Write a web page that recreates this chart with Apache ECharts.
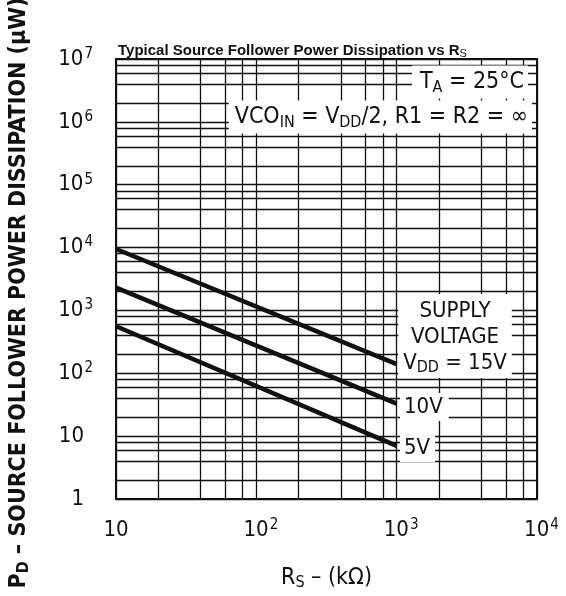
<!DOCTYPE html>
<html>
<head>
<meta charset="utf-8">
<script src="https://cdn.jsdelivr.net/npm/echarts@6/dist/echarts.min.js"></script>
<style>
html,body{margin:0;padding:0;background:#fff;}
#chart{width:566px;height:596px;}
</style>
</head>
<body>
<div id="chart"></div>
<script>
// Data
const seriesNames = ['15V', '10V', '5V'];
const rsValues = [10, 1000];                 // R_S (kΩ)
const pd15V = [9500, 140];                   // P_D (µW) at VDD = 15 V
const pd10V = [2300, 33];                    // P_D (µW) at VDD = 10 V
const pd5V  = [560, 7];                      // P_D (µW) at VDD = 5 V

// Axis ticks and chart-paper grid values
const xTicks = [10, 100, 1000, 10000];
const yTicks = [1, 10, 100, 1000, 10000, 100000, 1000000, 10000000];
const xMinorGrid = [20, 40, 60, 80, 200, 400, 600, 800, 2000, 4000, 6000, 8000];
const yMinorGrid = [2, 4, 6, 8, 20, 40, 60, 80, 200, 400, 600, 800,
  2000, 4000, 6000, 8000, 20000, 40000, 60000, 80000,
  200000, 400000, 600000, 800000, 2000000, 4000000, 6000000, 8000000];

const FONT = '"DejaVu Sans Condensed", "Liberation Sans Narrow", sans-serif';
const INK = '#111';

function pairs(xs, ys) { return xs.map((x, i) => [x, ys[i]]); }

function expLabel(v, plainMax) {
  const e = Math.round(Math.log10(v));
  if (v <= plainMax) return '{b|' + v + '}{p|}';
  return '{b|10}{s|' + e + '}';
}

const richLabel = {
  b: { fontFamily: FONT, fontSize: 22, color: INK, lineHeight: 26 },
  s: { fontFamily: FONT, fontSize: 15, color: INK, padding: [0, 0, 10, 1] },
  p: { width: 9, fontSize: 15 }
};

const chart = echarts.init(document.getElementById('chart'), null, { renderer: 'canvas' });

const txt = (extra) => Object.assign({ fontFamily: FONT, fontSize: 23, fill: INK }, extra);

const option = {
  animation: false,
  backgroundColor: '#fff',
  title: {
    text: 'Typical Source Follower Power Dissipation vs R{sub|S}',
    left: 113, top: 38,
    textStyle: {
      fontFamily: '"Liberation Sans", Arial, sans-serif', fontSize: 15, fontWeight: 'bold', color: INK,
      rich: { sub: { fontFamily: '"Liberation Sans", Arial, sans-serif', fontSize: 11, fontWeight: 'normal', color: INK, padding: [5, 0, 0, 0] } }
    }
  },
  grid: { left: 116, right: 29, top: 59, bottom: 96, show: true, borderColor: INK, borderWidth: 2, backgroundColor: 'transparent' },
  xAxis: {
    type: 'log', logBase: 10, min: 10, max: 10000,
    name: '{b|R}{sub|S}{b| – (kΩ)}',
    nameLocation: 'middle', nameGap: 66,
    nameTextStyle: {
      fontFamily: FONT, fontSize: 23, color: INK,
      rich: { b: { fontFamily: FONT, fontSize: 23, color: INK }, sub: { fontFamily: FONT, fontSize: 16, color: INK, padding: [10, 0, 0, 0] } }
    },
    axisLine: { show: true, lineStyle: { color: INK, width: 2 } },
    axisTick: { show: false },
    splitLine: { show: true, lineStyle: { color: INK, width: 1.3 } },
    axisLabel: {
      margin: 18,
      formatter: (v) => (v <= 10 ? '{b|10}' : '{p|}{b|10}{s|' + Math.round(Math.log10(v)) + '}'),
      rich: richLabel
    }
  },
  yAxis: {
    type: 'log', logBase: 10, min: 1, max: 10000000,
    axisLine: { show: true, lineStyle: { color: INK, width: 2 } },
    axisTick: { show: false },
    splitLine: { show: true, lineStyle: { color: INK, width: 1.3 } },
    axisLabel: {
      margin: 23,
      formatter: (v) => expLabel(v, 10),
      rich: richLabel
    }
  },
  graphic: [
    { type: 'text', z: 100, x: 19, y: 293, rotation: Math.PI / 2,
      style: txt({
        text: '{b|P}{sub|D}{b| – SOURCE FOLLOWER POWER DISSIPATION (μW)}',
        align: 'center', verticalAlign: 'middle',
        rich: {
          b: { fontFamily: FONT, fontSize: 23, fontWeight: 'bold', fill: INK },
          sub: { fontFamily: FONT, fontSize: 16, fontWeight: 'bold', fill: INK, padding: [10, 0, 0, 0] }
        }
      }) },
    { type: 'text', z: 100, x: 528, y: 82,
      style: txt({
        text: '{b|T}{sub|A}{b| = 25°C}',
        align: 'right', verticalAlign: 'middle', backgroundColor: '#fff', padding: [3, 4, 3, 8],
        rich: { b: { fontFamily: FONT, fontSize: 23, fill: INK }, sub: { fontFamily: FONT, fontSize: 16, fill: INK, padding: [11, 0, 0, 0] } }
      }) },
    { type: 'text', z: 100, x: 532, y: 117,
      style: txt({
        text: '{b|VCO}{sub|IN}{b| = V}{sub|DD}{b|/2, R1 = R2 = ∞}',
        align: 'right', verticalAlign: 'middle', backgroundColor: '#fff', padding: [3, 4, 3, 6],
        rich: { b: { fontFamily: FONT, fontSize: 23, fill: INK }, sub: { fontFamily: FONT, fontSize: 16, fill: INK, padding: [11, 0, 0, 0] } }
      }) },
    { type: 'text', z: 100, x: 455, y: 336,
      style: txt({
        text: '{b|SUPPLY}\n{b|VOLTAGE}\n{b|V}{sub|DD}{b| = 15V}',
        align: 'center', verticalAlign: 'middle', backgroundColor: '#fff', padding: [4, 5, 2, 5],
        rich: { b: { fontFamily: FONT, fontSize: 22, fill: INK, lineHeight: 26, align: 'center' }, sub: { fontFamily: FONT, fontSize: 16, fill: INK, padding: [10, 0, 0, 0] } }
      }) },
    { type: 'text', z: 100, x: 400, y: 407,
      style: txt({ text: '10V', fontSize: 22, align: 'left', verticalAlign: 'middle', backgroundColor: '#fff', padding: [3, 6, 3, 4] }) },
    { type: 'text', z: 100, x: 400, y: 448,
      style: txt({ text: '5V', fontSize: 22, align: 'left', verticalAlign: 'middle', backgroundColor: '#fff', padding: [3, 5, 3, 4] }) }
  ],
  series: [
    {
      name: 'grid', type: 'line', data: [], silent: true, z: 1,
      markLine: {
        silent: true, symbol: 'none', animation: false,
        label: { show: false },
        lineStyle: { color: INK, width: 1.3, type: 'solid' },
        emphasis: { disabled: true },
        data: xMinorGrid.map(v => ({ xAxis: v })).concat(yMinorGrid.map(v => ({ yAxis: v })))
      }
    },
    { name: seriesNames[0], type: 'line', data: pairs(rsValues, pd15V), symbol: 'none', lineStyle: { color: INK, width: 4.5 }, z: 5 },
    { name: seriesNames[1], type: 'line', data: pairs(rsValues, pd10V), symbol: 'none', lineStyle: { color: INK, width: 4.5 }, z: 5 },
    { name: seriesNames[2], type: 'line', data: pairs(rsValues, pd5V), symbol: 'none', lineStyle: { color: INK, width: 4.5 }, z: 5 }
  ]
};
chart.setOption(option);
</script>
</body>
</html>
